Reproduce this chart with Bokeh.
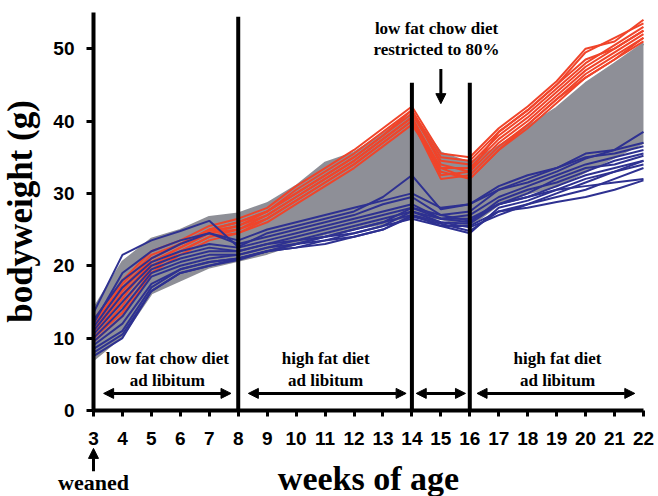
from bokeh.plotting import figure
from bokeh.models import Arrow, NormalHead, Label, Range1d, FixedTicker
from bokeh.embed import file_html
from bokeh.resources import INLINE

weeks = list(range(3, 23))

# envelope of the grey (unselected) animals
gray_low = [7, 10.3, 16.2, 18, 19.8, 20.7, 21.7, 23, 24.4, 25.1, 25.8, 27, 26.5, 25.5, 28.5, 30, 31, 33, 35, 37]
gray_high = [14, 20.5, 23.7, 24.9, 26.7, 27.2, 28.6, 31, 34.2, 35.6, 38.2, 41, 35.6, 34.2, 36.5, 39.2, 41.8, 45.2, 47.9, 50.7]

red_lines = [
    [12.5, 18, 22, 23.5, 25.5, 26.5, 28, 31, 33.5, 36, 39, 42, 35.5, 35, 39, 42, 45.5, 50, 51, 54],
    [12, 17.5, 21.5, 23, 25, 26, 27.5, 30.5, 33, 35.5, 38.5, 41.5, 35, 34.5, 38.5, 41.5, 45, 49.5, 51.5, 53.5],
    [11.5, 17, 21, 23, 24.8, 25.5, 27.5, 30, 32.5, 35, 38, 41, 34.5, 34, 38, 41, 44.5, 48, 50.5, 53],
    [11, 16, 20.5, 22.5, 24.5, 25.5, 27, 29.5, 32, 34.5, 37.5, 40.5, 33.5, 33.5, 37.5, 40.5, 44, 47.5, 50, 52.5],
    [10.5, 15.5, 20.5, 22.5, 24.5, 25, 27, 29.5, 32, 34.5, 37.5, 40.5, 32.5, 33, 37, 40, 43.5, 47, 49.5, 52],
    [10, 14.5, 20, 22, 24, 25, 26.5, 29, 31.5, 34, 37, 40, 32, 32.5, 36.5, 39.5, 43, 46.5, 49, 51.5],
    [10, 13.5, 19.5, 22, 24, 24.5, 26.5, 29, 31.5, 34, 37, 40, 33, 32, 36, 39, 42.5, 46, 48.5, 51.5],
    [9.5, 13, 19, 21.5, 23.5, 24.5, 26, 28.5, 31, 33.5, 36.5, 39.5, 33.5, 32, 36, 39.5, 43, 46, 48.5, 51],
    [11, 16.5, 21, 23, 25, 26, 27.5, 30, 32.5, 35, 38, 41.5, 34, 33, 38.5, 41.5, 45, 48.5, 50, 52.5],
]

blue_lines = [
    [13.5, 21.5, 23.5, 24.8, 26.2, 22.6, 24.5, 25.5, 26.5, 27.5, 29.5, 32.5, 27.8, 28.5, 30.5, 31.5, 33, 34.8, 36, 38.5],
    [12.5, 18, 21, 23, 24.5, 23, 24, 25, 26, 27, 28.5, 29.5, 27, 27.5, 30.5, 32, 33.5, 35.5, 36, 37],
    [11.5, 17, 20.5, 22, 23, 22.5, 23.5, 24.5, 25.5, 26.5, 27.5, 28.5, 26.5, 27, 29.5, 31, 32.5, 34, 35, 36],
    [11, 16, 20, 21.5, 22.5, 22, 23, 24, 25, 26, 27, 28, 26.5, 26, 29, 30.5, 31.5, 33, 34.5, 35.5],
    [10.5, 15, 19.5, 21, 22, 22, 23, 23.5, 24.5, 25.5, 26.5, 27.5, 26, 25.8, 28.5, 29.5, 31, 32.5, 33.5, 34.5],
    [10, 14, 19, 20.5, 21.5, 21.5, 22.5, 23.5, 24, 25, 26, 27, 25.5, 24.5, 28, 29, 30.5, 32, 33, 34],
    [9.5, 13, 18.5, 20, 21, 21.5, 22.5, 23, 24, 24.5, 25.5, 27.5, 26.5, 26.5, 28.5, 29.5, 30.5, 31, 31.5, 32],
    [9, 12, 17.5, 19.5, 20.5, 21, 22, 23, 23.5, 24.5, 25.5, 26.5, 25.5, 25.5, 27.5, 28.5, 29.5, 30.5, 32, 33.5],
    [8.5, 11, 17, 19.5, 20.5, 21, 22, 22.5, 23.5, 24, 25, 26.8, 25.8, 24.8, 27.5, 28, 28.8, 29.5, 30.5, 31.8],
    [8, 10.5, 16.5, 19, 20, 21, 22, 22.5, 23, 24, 25, 27, 26, 25.3, 27, 28.5, 30, 31.5, 33, 34.5],
    [7.5, 10, 16.5, 19, 20, 20.8, 22, 23, 24, 25, 26, 28, 27, 26.2, 28.5, 30, 32, 33.5, 34, 35.2],
    [12, 19, 22, 23.5, 24.5, 23.5, 25, 26, 27, 28, 29, 30, 28, 28.5, 31, 32.5, 33.5, 35, 35.5, 36.5],
]

y_ticks = [0, 10, 20, 30, 40, 50]
x_ticks = weeks

phase_weeks = [8, 14, 16]
phase_tops = [54.4, 45.3, 45.3]

GRAY = "#8E8F97"
RED = "#F0442A"
BLUE = "#2E3191"
SERIF = "Liberation Serif"
SANS = "Liberation Sans"

# the frame covers the whole figure; axes sit at fixed data locations (x=3, y=0)
p = figure(width=658, height=496, x_range=Range1d(-0.2128, 22.519), y_range=Range1d(-11.9, 56.658),
           output_backend="svg", toolbar_location=None,
           min_border_left=0, min_border_right=0, min_border_top=0, min_border_bottom=0)
p.frame_width = 658
p.frame_height = 496
p.outline_line_color = None
p.grid.visible = False

p.varea(x=weeks, y1=gray_low, y2=gray_high, fill_color=GRAY)
p.line(weeks, gray_low, line_color=GRAY, line_width=2.5)
p.line(weeks, gray_high, line_color=GRAY, line_width=2.5)

for ys in red_lines:
    p.line(weeks, ys, line_color=RED, line_width=2)
for ys in blue_lines:
    p.line(weeks, ys, line_color=BLUE, line_width=2)

p.segment(x0=phase_weeks, y0=[0] * len(phase_weeks), x1=phase_weeks, y1=phase_tops,
          line_color="black", line_width=4)

for ax in (p.xaxis[0], p.yaxis[0]):
    ax.axis_line_width = 4
    ax.axis_line_color = "black"
    ax.major_tick_line_width = 3
    ax.major_tick_out = 7
    ax.major_tick_in = 0
    ax.minor_tick_line_color = None
    ax.major_label_text_font = SANS
    ax.major_label_text_font_style = "bold"
    ax.major_label_text_font_size = "19px"
    ax.major_label_text_color = "black"
    ax.axis_label_text_font = SERIF
    ax.axis_label_text_font_style = "bold"
    ax.axis_label_text_color = "black"

xa = p.xaxis[0]
ya = p.yaxis[0]
xa.fixed_location = 0
ya.fixed_location = 3
xa.bounds = (3, 22)
ya.bounds = (0, 55)
xa.ticker = FixedTicker(ticks=x_ticks)
ya.ticker = FixedTicker(ticks=y_ticks)
xa.major_tick_out = 6
xa.major_label_standoff = 16
ya.major_label_standoff = 12
xa.axis_label = "weeks of age"
ya.axis_label = "bodyweight (g)"
xa.axis_label_text_font_size = "34px"
ya.axis_label_text_font_size = "35px"
xa.axis_label_standoff = 11
ya.axis_label_standoff = 10


def add_label(x, y, text, size="17px", baseline="middle"):
    p.add_layout(Label(x=x, y=y, text=text, text_font=SERIF, text_font_style="bold",
                       text_font_size=size, text_align="center", text_baseline=baseline,
                       text_color="black"))


def add_arrow(x0, y0, x1, y1, both=False):
    p.add_layout(Arrow(x_start=x0, y_start=y0, x_end=x1, y_end=y1,
                       line_width=3, line_color="black",
                       start=NormalHead(size=10, fill_color="black", line_color="black") if both else None,
                       end=NormalHead(size=10, fill_color="black", line_color="black")))


add_label(5.55, 7.2, "low fat chow diet")
add_label(5.55, 4.1, "ad libitum")
add_arrow(3.35, 2.35, 7.75, 2.35, both=True)

add_label(11.02, 7.2, "high fat diet")
add_label(11.02, 4.1, "ad libitum")
add_arrow(8.35, 2.35, 13.8, 2.35, both=True)

add_arrow(14.15, 2.35, 15.85, 2.35, both=True)

add_label(19.03, 7.2, "high fat diet")
add_label(19.03, 4.1, "ad libitum")
add_arrow(16.25, 2.35, 21.7, 2.35, both=True)

add_label(14.85, 52.8, "low fat chow diet")
add_label(14.85, 49.9, "restricted to 80%")
add_arrow(15, 47.2, 15, 42.4)

add_arrow(3, -8.4, 3, -5.25)
add_label(3, -10.0, "weaned", size="22px", baseline="alphabetic")

open("out.html", "w").write(file_html(p, INLINE))
